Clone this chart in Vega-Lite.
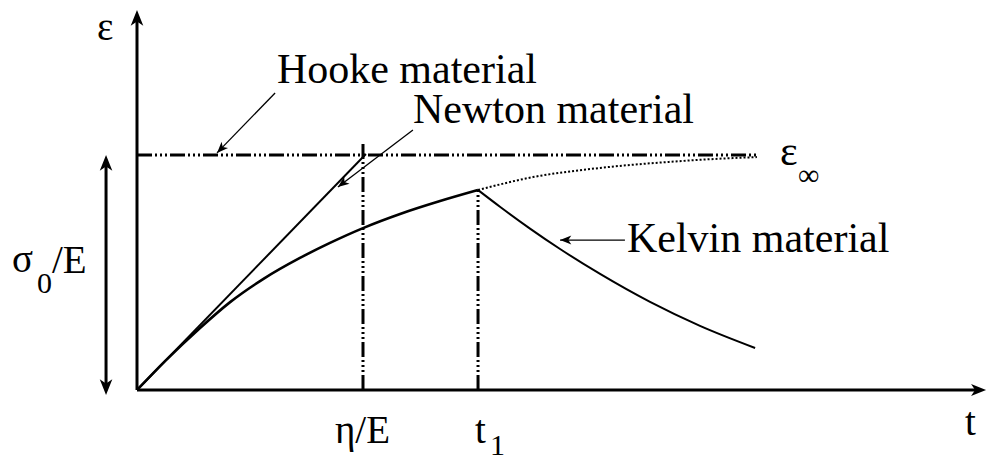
{
  "$schema": "https://vega.github.io/schema/vega-lite/v6.json",
  "width": 987,
  "height": 461,
  "autosize": {"type": "none"},
  "padding": 0,
  "background": "white",
  "config": {"view": {"stroke": null}, "text": {"font": "'Liberation Serif', 'Times New Roman', 'DejaVu Serif', serif"}},
  "datasets": {
    "axes": [
      {"part": "strain axis", "t": 0, "e": 0, "t2": 0, "e2": 1.591},
      {"part": "time axis", "t": 0, "e": 0, "t2": 3.726, "e2": 0},
      {"part": "sigma0/E span", "t": -0.137, "e": 0.004, "t2": -0.137, "e2": 0.974}
    ],
    "headsUp": [
      {"part": "strain axis", "t": 0, "e": 1.617},
      {"part": "sigma0/E span", "t": -0.137, "e": 1.0}
    ],
    "headsDown": [
      {"part": "sigma0/E span", "t": -0.137, "e": -0.021}
    ],
    "headsRight": [
      {"part": "time axis", "t": 3.757, "e": 0}
    ],
    "guides": [
      {"part": "Hooke", "t": 0, "e": 1, "t2": 2.743, "e2": 1},
      {"part": "eta/E", "t": 1, "e": 0, "t2": 1, "e2": 1.055},
      {"part": "t1", "t": 1.509, "e": 0, "t2": 1.509, "e2": 0.851}
    ],
    "newton": [
      {"part": "Newton", "t": 0, "e": 0, "t2": 1.013, "e2": 1.004}
    ],
    "pointers": [
      {"part": "Hooke", "t": 0.611, "e": 1.264, "t2": 0.354, "e2": 1.009},
      {"part": "Newton", "t": 1.221, "e": 1.106, "t2": 0.889, "e2": 0.864},
      {"part": "Kelvin", "t": 2.159, "e": 0.638, "t2": 1.872, "e2": 0.638}
    ],
    "hookeTip": [{"t": 0.354, "e": 1.009}],
    "newtonTip": [{"t": 0.889, "e": 0.864}],
    "kelvinTip": [{"t": 1.872, "e": 0.638}],
    "kelvinRise": [
      {"t": 0, "e": 0},
      {"t": 0.124, "e": 0.123},
      {"t": 0.279, "e": 0.264},
      {"t": 0.412, "e": 0.374},
      {"t": 0.558, "e": 0.472},
      {"t": 0.721, "e": 0.562},
      {"t": 0.854, "e": 0.626},
      {"t": 1.0, "e": 0.689},
      {"t": 1.164, "e": 0.749},
      {"t": 1.341, "e": 0.804},
      {"t": 1.509, "e": 0.851}
    ],
    "kelvinTail": [
      {"t": 1.509, "e": 0.851},
      {"t": 1.752, "e": 0.906},
      {"t": 2.049, "e": 0.945},
      {"t": 2.345, "e": 0.97},
      {"t": 2.637, "e": 0.987},
      {"t": 2.743, "e": 0.991}
    ],
    "kelvinRecovery": [
      {"t": 1.509, "e": 0.851},
      {"t": 1.606, "e": 0.78},
      {"t": 1.739, "e": 0.687},
      {"t": 1.872, "e": 0.6},
      {"t": 2.049, "e": 0.494},
      {"t": 2.27, "e": 0.375},
      {"t": 2.491, "e": 0.273},
      {"t": 2.735, "e": 0.179}
    ],
    "names": [
      {"label": "Hooke material", "t": 0.619, "e": 1.306},
      {"label": "Newton material", "t": 1.221, "e": 1.136},
      {"label": "Kelvin material", "t": 2.168, "e": 0.587},
      {"label": "ε", "t": 2.845, "e": 0.957}
    ],
    "symbols": [
      {"label": "ε", "t": -0.177, "e": 1.489},
      {"label": "σ", "t": -0.553, "e": 0.502},
      {"label": "/E", "t": -0.376, "e": 0.498},
      {"label": "η/E", "t": 0.876, "e": -0.226},
      {"label": "t", "t": 1.496, "e": -0.226},
      {"label": "t", "t": 3.664, "e": -0.191}
    ],
    "subscripts": [
      {"label": "0", "t": -0.442, "e": 0.413},
      {"label": "1", "t": 1.562, "e": -0.275},
      {"label": "∞", "t": 2.925, "e": 0.872}
    ]
  },
  "encoding": {
    "x": {"field": "t", "type": "quantitative", "axis": null, "scale": {"domain": [-0.6062, 3.7611], "nice": false, "zero": false}},
    "y": {"field": "e", "type": "quantitative", "axis": null, "scale": {"domain": [-0.3021, 1.6596], "nice": false, "zero": false}}
  },
  "layer": [
    {
      "data": {"name": "axes"},
      "mark": {"type": "rule", "color": "black", "strokeWidth": 3},
      "encoding": {"x2": {"field": "t2"}, "y2": {"field": "e2"}}
    },
    {
      "data": {"name": "guides"},
      "mark": {"type": "rule", "color": "black", "strokeWidth": 3, "strokeDash": [15, 3, 2, 3, 2, 3, 2, 3]},
      "encoding": {"x2": {"field": "t2"}, "y2": {"field": "e2"}}
    },
    {
      "data": {"name": "newton"},
      "mark": {"type": "rule", "color": "black", "strokeWidth": 2},
      "encoding": {"x2": {"field": "t2"}, "y2": {"field": "e2"}}
    },
    {
      "data": {"name": "pointers"},
      "mark": {"type": "rule", "color": "black", "strokeWidth": 1.3},
      "encoding": {"x2": {"field": "t2"}, "y2": {"field": "e2"}}
    },
    {
      "data": {"name": "kelvinRise"},
      "mark": {"type": "line", "color": "black", "strokeWidth": 2.6, "interpolate": "monotone"},
      "encoding": {}
    },
    {
      "data": {"name": "kelvinTail"},
      "mark": {"type": "line", "color": "black", "strokeWidth": 2, "strokeDash": [2, 2], "interpolate": "monotone"},
      "encoding": {}
    },
    {
      "data": {"name": "kelvinRecovery"},
      "mark": {"type": "line", "color": "black", "strokeWidth": 2, "interpolate": "monotone"},
      "encoding": {}
    },
    {
      "data": {"name": "headsUp"},
      "mark": {"type": "point", "shape": "M0,0 L0.6,1.5 L0,1.1 L-0.6,1.5 Z", "filled": true, "color": "black", "opacity": 1, "size": 440, "angle": 0},
      "encoding": {}
    },
    {
      "data": {"name": "headsDown"},
      "mark": {"type": "point", "shape": "M0,0 L0.6,1.5 L0,1.1 L-0.6,1.5 Z", "filled": true, "color": "black", "opacity": 1, "size": 440, "angle": 180},
      "encoding": {}
    },
    {
      "data": {"name": "headsRight"},
      "mark": {"type": "point", "shape": "M0,0 L0.6,1.5 L0,1.1 L-0.6,1.5 Z", "filled": true, "color": "black", "opacity": 1, "size": 400, "angle": 90},
      "encoding": {}
    },
    {
      "data": {"name": "hookeTip"},
      "mark": {"type": "point", "shape": "M0,0 L0.6,1.5 L0,1.1 L-0.6,1.5 Z", "filled": true, "color": "black", "opacity": 1, "size": 225, "angle": 224},
      "encoding": {}
    },
    {
      "data": {"name": "newtonTip"},
      "mark": {"type": "point", "shape": "M0,0 L0.6,1.5 L0,1.1 L-0.6,1.5 Z", "filled": true, "color": "black", "opacity": 1, "size": 225, "angle": 233},
      "encoding": {}
    },
    {
      "data": {"name": "kelvinTip"},
      "mark": {"type": "point", "shape": "M0,0 L0.6,1.5 L0,1.1 L-0.6,1.5 Z", "filled": true, "color": "black", "opacity": 1, "size": 225, "angle": 270},
      "encoding": {}
    },
    {
      "data": {"name": "names"},
      "mark": {"type": "text", "fontSize": 42, "color": "black", "align": "left", "baseline": "alphabetic"},
      "encoding": {"text": {"field": "label"}}
    },
    {
      "data": {"name": "symbols"},
      "mark": {"type": "text", "fontSize": 39, "color": "black", "align": "left", "baseline": "alphabetic"},
      "encoding": {"text": {"field": "label"}}
    },
    {
      "data": {"name": "subscripts"},
      "mark": {"type": "text", "fontSize": 30, "color": "black", "align": "left", "baseline": "alphabetic"},
      "encoding": {"text": {"field": "label"}}
    }
  ]
}
